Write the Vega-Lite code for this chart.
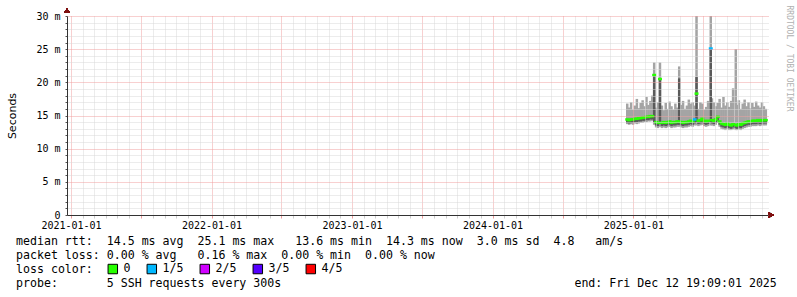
{
  "$schema": "https://vega.github.io/schema/vega-lite/v6.json",
  "width": 701,
  "height": 199,
  "autosize": {"type": "none"},
  "padding": {"left": 67, "top": 16, "right": 29, "bottom": 82},
  "background": "white",
  "config": {"view": {"stroke": null}},
  "title": {
    "text": [
      "median rtt:\u00a0\u00a014.5 ms avg\u00a0\u00a025.1 ms max\u00a0\u00a0\u00a013.6 ms min\u00a0\u00a014.3 ms now\u00a0\u00a03.0 ms sd\u00a0\u00a04.8\u00a0\u00a0\u00a0am/s",
      "packet loss: 0.00 % avg\u00a0\u00a0\u00a00.16 % max\u00a0\u00a00.00 % min\u00a0\u00a00.00 % now",
      "loss color:",
      "probe:\u00a0\u00a0\u00a0\u00a0\u00a0\u00a0\u00a05 SSH requests every 300s\u00a0\u00a0\u00a0\u00a0\u00a0\u00a0\u00a0\u00a0\u00a0\u00a0\u00a0\u00a0\u00a0\u00a0\u00a0\u00a0\u00a0\u00a0\u00a0\u00a0\u00a0\u00a0\u00a0\u00a0\u00a0\u00a0\u00a0\u00a0\u00a0\u00a0\u00a0\u00a0\u00a0\u00a0\u00a0\u00a0\u00a0\u00a0\u00a0\u00a0\u00a0\u00a0end: Fri Dec 12 19:09:01 2025"
    ],
    "orient": "bottom",
    "anchor": "start",
    "frame": "group",
    "font": "DejaVu Sans Mono",
    "fontSize": 11.6,
    "fontWeight": "normal",
    "color": "black",
    "lineHeight": 14,
    "dx": -51,
    "offset": -40
  },
  "data": {
    "values": [
      {"d": "2024-12-16", "lo": 13.7, "q1": 13.9, "med": 14.4, "q3": 14.5, "hi": 16.8, "loss": "0"},
      {"d": "2024-12-21", "lo": 13.6, "q1": 13.8, "med": 14.3, "q3": 14.4, "hi": 16.2, "loss": "0"},
      {"d": "2024-12-26", "lo": 13.7, "q1": 13.9, "med": 14.4, "q3": 14.5, "hi": 17.0, "loss": "0"},
      {"d": "2024-12-31", "lo": 13.6, "q1": 13.9, "med": 14.4, "q3": 14.5, "hi": 15.9, "loss": "0"},
      {"d": "2025-01-05", "lo": 13.8, "q1": 14.0, "med": 14.5, "q3": 14.6, "hi": 16.5, "loss": "0"},
      {"d": "2025-01-10", "lo": 13.7, "q1": 14.0, "med": 14.5, "q3": 14.6, "hi": 17.5, "loss": "0"},
      {"d": "2025-01-15", "lo": 13.8, "q1": 14.1, "med": 14.6, "q3": 14.7, "hi": 16.1, "loss": "0"},
      {"d": "2025-01-20", "lo": 13.9, "q1": 14.1, "med": 14.6, "q3": 14.7, "hi": 16.9, "loss": "0"},
      {"d": "2025-01-25", "lo": 13.9, "q1": 14.2, "med": 14.7, "q3": 14.8, "hi": 17.3, "loss": "0"},
      {"d": "2025-01-30", "lo": 14.0, "q1": 14.2, "med": 14.7, "q3": 14.8, "hi": 16.4, "loss": "0"},
      {"d": "2025-02-04", "lo": 14.0, "q1": 14.3, "med": 14.8, "q3": 14.9, "hi": 17.8, "loss": "0"},
      {"d": "2025-02-09", "lo": 14.1, "q1": 14.3, "med": 14.8, "q3": 14.9, "hi": 16.6, "loss": "0"},
      {"d": "2025-02-14", "lo": 14.1, "q1": 14.4, "med": 14.9, "q3": 15.0, "hi": 17.2, "loss": "0"},
      {"d": "2025-02-19", "lo": 14.2, "q1": 14.4, "med": 14.9, "q3": 15.0, "hi": 18.0, "loss": "0"},
      {"d": "2025-02-24", "lo": 13.6, "q1": 14.0, "med": 21.1, "q3": 21.1, "hi": 23.0, "loss": "0"},
      {"d": "2025-03-01", "lo": 13.2, "q1": 13.5, "med": 14.0, "q3": 14.1, "hi": 16.2, "loss": "0"},
      {"d": "2025-03-06", "lo": 13.1, "q1": 13.4, "med": 13.9, "q3": 14.0, "hi": 17.0, "loss": "0"},
      {"d": "2025-03-11", "lo": 13.3, "q1": 13.8, "med": 20.5, "q3": 20.5, "hi": 23.0, "loss": "0"},
      {"d": "2025-03-16", "lo": 13.1, "q1": 13.4, "med": 13.9, "q3": 14.0, "hi": 16.5, "loss": "0"},
      {"d": "2025-03-21", "lo": 13.2, "q1": 13.5, "med": 14.0, "q3": 14.1, "hi": 15.8, "loss": "0"},
      {"d": "2025-03-26", "lo": 13.1, "q1": 13.4, "med": 13.9, "q3": 14.0, "hi": 16.9, "loss": "0"},
      {"d": "2025-03-31", "lo": 13.2, "q1": 13.5, "med": 14.0, "q3": 14.1, "hi": 16.0, "loss": "0"},
      {"d": "2025-04-05", "lo": 13.3, "q1": 13.6, "med": 14.1, "q3": 14.2, "hi": 17.1, "loss": "0"},
      {"d": "2025-04-10", "lo": 13.1, "q1": 13.4, "med": 13.9, "q3": 14.0, "hi": 16.4, "loss": "0"},
      {"d": "2025-04-15", "lo": 13.2, "q1": 13.5, "med": 14.0, "q3": 14.1, "hi": 15.9, "loss": "0"},
      {"d": "2025-04-20", "lo": 13.2, "q1": 13.5, "med": 14.0, "q3": 14.1, "hi": 16.8, "loss": "0"},
      {"d": "2025-04-25", "lo": 13.3, "q1": 13.6, "med": 14.1, "q3": 14.2, "hi": 16.2, "loss": "0"},
      {"d": "2025-04-30", "lo": 13.3, "q1": 13.6, "med": 14.1, "q3": 20.6, "hi": 22.4, "loss": "0"},
      {"d": "2025-05-05", "lo": 13.2, "q1": 13.5, "med": 14.0, "q3": 14.1, "hi": 16.6, "loss": "0"},
      {"d": "2025-05-10", "lo": 13.1, "q1": 13.4, "med": 13.9, "q3": 14.0, "hi": 17.2, "loss": "0"},
      {"d": "2025-05-15", "lo": 13.2, "q1": 13.5, "med": 14.0, "q3": 14.1, "hi": 16.0, "loss": "0"},
      {"d": "2025-05-20", "lo": 13.2, "q1": 13.5, "med": 14.0, "q3": 14.1, "hi": 16.5, "loss": "0"},
      {"d": "2025-05-25", "lo": 13.3, "q1": 13.6, "med": 14.1, "q3": 14.2, "hi": 17.4, "loss": "0"},
      {"d": "2025-05-30", "lo": 13.4, "q1": 13.7, "med": 14.2, "q3": 14.3, "hi": 16.8, "loss": "0"},
      {"d": "2025-06-04", "lo": 13.3, "q1": 13.6, "med": 14.1, "q3": 14.2, "hi": 17.0, "loss": "0"},
      {"d": "2025-06-09", "lo": 13.5, "q1": 13.8, "med": 14.4, "q3": 14.5, "hi": 16.5, "loss": "1/5"},
      {"d": "2025-06-14", "lo": 13.5, "q1": 14.0, "med": 18.3, "q3": 20.8, "hi": 30.5, "loss": "0"},
      {"d": "2025-06-19", "lo": 13.4, "q1": 13.7, "med": 14.2, "q3": 14.3, "hi": 16.0, "loss": "0"},
      {"d": "2025-06-24", "lo": 13.5, "q1": 13.8, "med": 14.3, "q3": 14.4, "hi": 17.0, "loss": "0"},
      {"d": "2025-06-29", "lo": 13.6, "q1": 13.9, "med": 14.5, "q3": 14.6, "hi": 16.8, "loss": "0"},
      {"d": "2025-07-04", "lo": 13.4, "q1": 13.7, "med": 14.2, "q3": 14.3, "hi": 15.9, "loss": "0"},
      {"d": "2025-07-09", "lo": 13.3, "q1": 13.6, "med": 14.1, "q3": 14.2, "hi": 16.3, "loss": "0"},
      {"d": "2025-07-14", "lo": 13.4, "q1": 13.7, "med": 14.2, "q3": 14.3, "hi": 17.2, "loss": "0"},
      {"d": "2025-07-21", "lo": 13.5, "q1": 14.0, "med": 25.1, "q3": 25.1, "hi": 30.5, "loss": "1/5"},
      {"d": "2025-07-24", "lo": 13.5, "q1": 13.8, "med": 14.3, "q3": 14.4, "hi": 17.6, "loss": "0"},
      {"d": "2025-07-29", "lo": 13.4, "q1": 13.7, "med": 14.2, "q3": 14.3, "hi": 17.0, "loss": "0"},
      {"d": "2025-08-03", "lo": 13.6, "q1": 13.9, "med": 14.4, "q3": 14.5, "hi": 16.4, "loss": "0"},
      {"d": "2025-08-08", "lo": 13.9, "q1": 14.2, "med": 14.8, "q3": 14.9, "hi": 16.9, "loss": "0"},
      {"d": "2025-08-13", "lo": 13.3, "q1": 13.6, "med": 14.1, "q3": 14.2, "hi": 17.5, "loss": "0"},
      {"d": "2025-08-18", "lo": 13.0, "q1": 13.3, "med": 13.8, "q3": 13.9, "hi": 16.2, "loss": "0"},
      {"d": "2025-08-23", "lo": 12.9, "q1": 13.2, "med": 13.7, "q3": 13.8, "hi": 17.8, "loss": "0"},
      {"d": "2025-08-28", "lo": 12.8, "q1": 13.1, "med": 13.6, "q3": 13.7, "hi": 16.5, "loss": "0"},
      {"d": "2025-09-02", "lo": 13.0, "q1": 13.3, "med": 13.8, "q3": 13.9, "hi": 17.0, "loss": "0"},
      {"d": "2025-09-07", "lo": 12.8, "q1": 13.1, "med": 13.6, "q3": 13.7, "hi": 16.3, "loss": "0"},
      {"d": "2025-09-12", "lo": 12.8, "q1": 13.0, "med": 13.5, "q3": 13.6, "hi": 17.2, "loss": "0"},
      {"d": "2025-09-17", "lo": 12.9, "q1": 13.2, "med": 13.7, "q3": 13.8, "hi": 19.1, "loss": "0"},
      {"d": "2025-09-24", "lo": 12.8, "q1": 13.1, "med": 13.6, "q3": 13.7, "hi": 25.0, "loss": "0"},
      {"d": "2025-09-27", "lo": 12.8, "q1": 13.0, "med": 13.5, "q3": 13.6, "hi": 16.6, "loss": "0"},
      {"d": "2025-10-02", "lo": 12.9, "q1": 13.2, "med": 13.7, "q3": 13.8, "hi": 17.3, "loss": "0"},
      {"d": "2025-10-07", "lo": 12.8, "q1": 13.1, "med": 13.6, "q3": 13.7, "hi": 16.0, "loss": "0"},
      {"d": "2025-10-12", "lo": 13.0, "q1": 13.3, "med": 13.8, "q3": 13.9, "hi": 16.8, "loss": "0"},
      {"d": "2025-10-17", "lo": 13.1, "q1": 13.4, "med": 13.9, "q3": 14.0, "hi": 17.4, "loss": "0"},
      {"d": "2025-10-22", "lo": 13.2, "q1": 13.5, "med": 14.0, "q3": 14.1, "hi": 16.4, "loss": "0"},
      {"d": "2025-10-27", "lo": 13.3, "q1": 13.6, "med": 14.1, "q3": 14.2, "hi": 17.0, "loss": "0"},
      {"d": "2025-11-01", "lo": 13.3, "q1": 13.6, "med": 14.1, "q3": 14.2, "hi": 16.1, "loss": "0"},
      {"d": "2025-11-06", "lo": 13.4, "q1": 13.7, "med": 14.2, "q3": 14.3, "hi": 16.9, "loss": "0"},
      {"d": "2025-11-11", "lo": 13.4, "q1": 13.7, "med": 14.2, "q3": 14.3, "hi": 16.3, "loss": "0"},
      {"d": "2025-11-16", "lo": 13.4, "q1": 13.7, "med": 14.2, "q3": 14.3, "hi": 17.1, "loss": "0"},
      {"d": "2025-11-21", "lo": 13.5, "q1": 13.8, "med": 14.3, "q3": 14.4, "hi": 16.5, "loss": "0"},
      {"d": "2025-11-26", "lo": 13.4, "q1": 13.7, "med": 14.2, "q3": 14.3, "hi": 16.2, "loss": "0"},
      {"d": "2025-12-01", "lo": 13.5, "q1": 13.8, "med": 14.3, "q3": 14.4, "hi": 17.0, "loss": "0"},
      {"d": "2025-12-06", "lo": 13.5, "q1": 13.8, "med": 14.3, "q3": 14.4, "hi": 16.4, "loss": "0"},
      {"d": "2025-12-11", "lo": 13.5, "q1": 13.8, "med": 14.3, "q3": 14.4, "hi": 16.0, "loss": "0"}
    ]
  },
  "layer": [
    {
      "mark": {"type": "rule", "strokeWidth": 2.5, "color": "#a4a4a4", "clip": true},
      "encoding": {
        "x": {
          "field": "d",
          "type": "temporal",
          "scale": {
            "type": "utc",
            "domain": [
              {"year": 2020, "month": 12, "date": 21, "hours": 14, "utc": true},
              {"year": 2025, "month": 12, "date": 16, "hours": 16, "utc": true}
            ]
          },
          "axis": {
            "title": null,
            "tickCount": {"interval": "month", "step": 1},
            "labelExpr": "utcmonth(datum.value) === 0 ? utcFormat(datum.value, '%Y-%m-%d') : ''",
            "labelFont": "DejaVu Sans Mono",
            "labelFontSize": 10,
            "labelColor": "black",
            "labelOverlap": false,
            "labelFlush": false,
            "labelPadding": 2,
            "tickSize": 3,
            "tickColor": {"condition": {"test": "utcmonth(datum.value) % 6 === 0", "value": "#ee9999"}, "value": "#cccccc"},
            "gridColor": {"condition": {"test": "utcmonth(datum.value) % 6 === 0", "value": "#f0a0a0"}, "value": "#d8d8d8"},
            "gridDash": [1, 1],
            "domainColor": "#333333",
            "zindex": 1
          }
        },
        "y": {
          "field": "lo",
          "type": "quantitative",
          "scale": {"domain": [0, 30], "nice": false, "zero": true},
          "axis": {
            "values": [0,1,2,3,4,5,6,7,8,9,10,11,12,13,14,15,16,17,18,19,20,21,22,23,24,25,26,27,28,29,30],
            "labelExpr": "datum.value % 5 === 0 ? (datum.value === 0 ? '0' : datum.value + ' m') : ''",
            "labelFont": "DejaVu Sans Mono",
            "labelFontSize": 10,
            "labelColor": "black",
            "labelOverlap": false,
            "labelFlush": false,
            "labelPadding": 5,
            "tickSize": 2,
            "tickColor": "#555555",
            "gridColor": {"condition": {"test": "datum.value % 5 === 0", "value": "#f0a0a0"}, "value": "#d8d8d8"},
            "gridDash": [1, 1],
            "domainColor": "#333333",
            "title": "Seconds",
            "titleFont": "DejaVu Sans",
            "titleFontSize": 11,
            "titleFontWeight": "normal",
            "titleColor": "black",
            "titlePadding": 18,
            "zindex": 1
          }
        },
        "y2": {"field": "hi"}
      }
    },
    {
      "mark": {"type": "rule", "strokeWidth": 2.5, "color": "#5a5a5a", "clip": true},
      "encoding": {
        "x": {"field": "d", "type": "temporal"},
        "y": {"field": "q1", "type": "quantitative", "axis": null},
        "y2": {"field": "q3"}
      }
    },
    {
      "mark": {"type": "tick", "orient": "horizontal", "thickness": 2.5, "size": 4, "opacity": 1, "clip": true},
      "encoding": {
        "x": {"field": "d", "type": "temporal"},
        "y": {"field": "med", "type": "quantitative", "axis": null},
        "color": {
          "field": "loss",
          "type": "nominal",
          "scale": {"domain": ["0", "1/5", "2/5", "3/5", "4/5"], "range": ["#26ff00", "#00b8ff", "#d000ff", "#5500ff", "#ff0000"]},
          "legend": {
            "orient": "none",
            "legendX": 40,
            "legendY": 247,
            "direction": "horizontal",
            "title": null,
            "symbolType": "square",
            "symbolSize": 90,
            "symbolStrokeWidth": 1,
            "symbolStrokeColor": "black",
            "symbolOpacity": 1,
            "labelFont": "DejaVu Sans Mono",
            "labelFontSize": 11.6,
            "labelColor": "black",
            "labelOffset": 5,
            "columnPadding": 14,
            "padding": 0,
            "encode": {"symbols": {"update": {"stroke": {"value": "black"}, "strokeWidth": {"value": 1}, "opacity": {"value": 1}}}}
          }
        }
      }
    },
    {
      "mark": {"type": "point", "shape": "triangle-up", "filled": true, "color": "#7f1010", "size": 30, "opacity": 1},
      "encoding": {
        "x": {"datum": {"year": 2020, "month": 12, "date": 21, "hours": 14, "utc": true}, "type": "temporal"},
        "y": {"datum": 30.8, "type": "quantitative", "axis": null}
      }
    },
    {
      "mark": {"type": "point", "shape": "triangle-right", "filled": true, "color": "#7f1010", "size": 30, "opacity": 1},
      "encoding": {
        "x": {"datum": {"year": 2025, "month": 12, "date": 25, "utc": true}, "type": "temporal"},
        "y": {
          "datum": 0,
          "type": "quantitative",
          "axis": {
            "orient": "right",
            "title": "RRDTOOL / TOBI OETIKER",
            "labels": false,
            "ticks": false,
            "domain": false,
            "grid": false,
            "titleAngle": 90,
            "titleFont": "DejaVu Sans Mono",
            "titleFontSize": 8,
            "titleFontWeight": "normal",
            "titleColor": "#b0b0b0",
            "titleX": 20,
            "titleY": -11,
            "titleAlign": "left",
            "titleBaseline": "middle"
          }
        }
      }
    }
  ],
  "resolve": {"axis": {"y": "independent"}}
}
